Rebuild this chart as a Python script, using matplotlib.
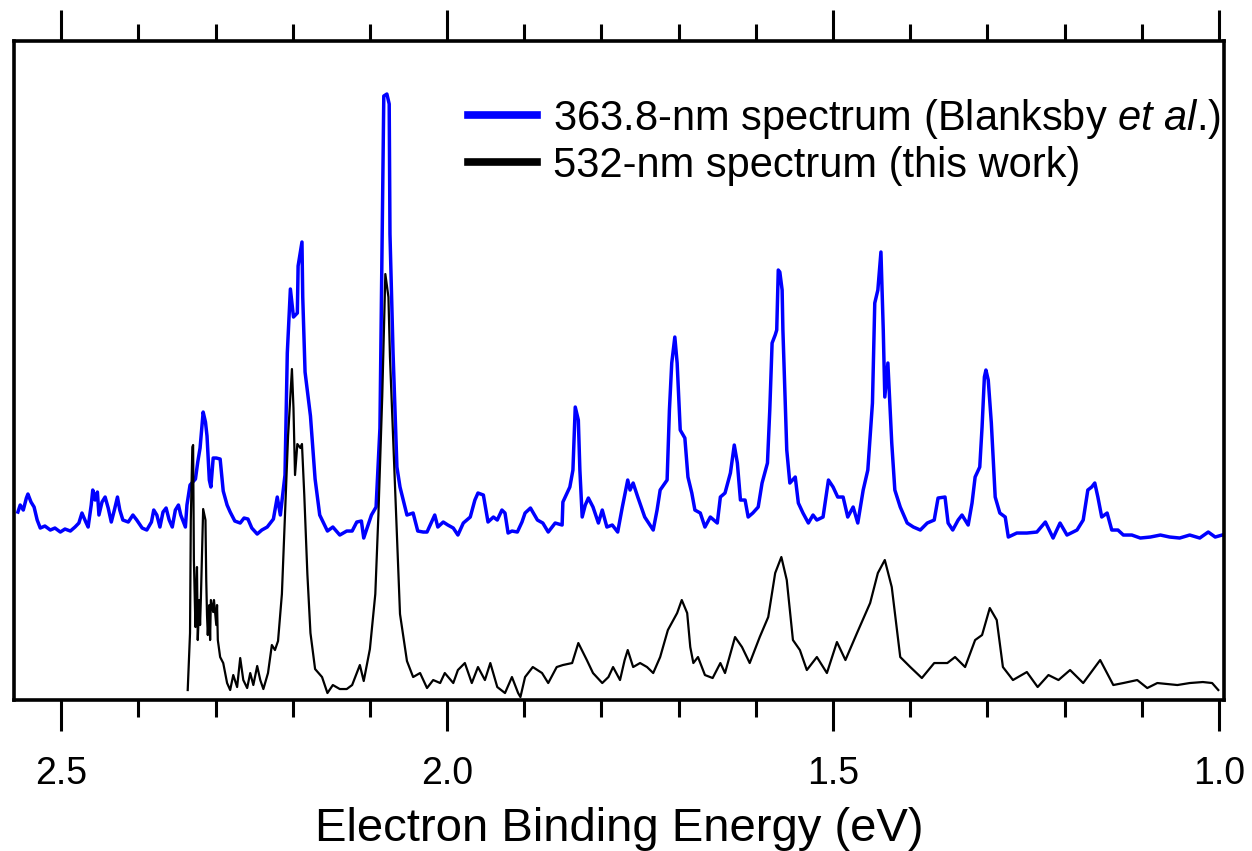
import matplotlib
matplotlib.use('Agg')
import matplotlib.pyplot as plt
from matplotlib.ticker import MultipleLocator

plt.rcParams['font.family'] = 'Liberation Sans'
plt.rcParams['mathtext.fontset'] = 'custom'
plt.rcParams['mathtext.rm'] = 'Liberation Sans'
plt.rcParams['mathtext.it'] = 'Liberation Sans:italic'

# 363.8-nm spectrum (Blanksby et al.) - binding energy (eV) / intensity (arb., offset)
e_blue = [2.556, 2.553, 2.549, 2.545, 2.543, 2.539, 2.535, 2.531, 2.527, 2.521,
          2.514, 2.508, 2.501, 2.495, 2.488, 2.482, 2.477, 2.473, 2.468, 2.465,
          2.461, 2.459, 2.456, 2.453, 2.451, 2.447, 2.443, 2.439, 2.435, 2.431,
          2.427, 2.424, 2.420, 2.413, 2.407, 2.402, 2.395, 2.389, 2.383, 2.380,
          2.376, 2.372, 2.368, 2.364, 2.360, 2.356, 2.352, 2.348, 2.345, 2.339,
          2.337, 2.333, 2.326, 2.323, 2.320, 2.316, 2.313, 2.311, 2.308, 2.306,
          2.303, 2.299, 2.294, 2.290, 2.285, 2.281, 2.275, 2.268, 2.263, 2.258,
          2.253, 2.246, 2.240, 2.233, 2.225, 2.220, 2.216, 2.210, 2.207, 2.203,
          2.199, 2.194, 2.193, 2.188, 2.187, 2.184, 2.177, 2.171, 2.165, 2.155,
          2.148, 2.139, 2.130, 2.123, 2.117, 2.111, 2.108, 2.098, 2.092, 2.087,
          2.084, 2.082, 2.078, 2.075, 2.074, 2.070, 2.065, 2.061, 2.052, 2.044,
          2.038, 2.031, 2.026, 2.016, 2.012, 2.005, 1.999, 1.992, 1.986, 1.979,
          1.970, 1.964, 1.960, 1.953, 1.947, 1.940, 1.935, 1.929, 1.925, 1.921,
          1.916, 1.909, 1.903, 1.899, 1.892, 1.883, 1.876, 1.869, 1.860, 1.851,
          1.850, 1.841, 1.837, 1.834, 1.830, 1.828, 1.825, 1.821, 1.817, 1.811,
          1.804, 1.799, 1.793, 1.786, 1.779, 1.773, 1.766, 1.763, 1.759, 1.753,
          1.744, 1.733, 1.728, 1.724, 1.715, 1.712, 1.709, 1.705, 1.702, 1.698,
          1.692, 1.688, 1.683, 1.679, 1.672, 1.666, 1.659, 1.650, 1.646, 1.640,
          1.633, 1.628, 1.624, 1.620, 1.614, 1.610, 1.604, 1.597, 1.592, 1.585,
          1.582, 1.579, 1.575, 1.573, 1.571, 1.569, 1.566, 1.565, 1.560, 1.556,
          1.549, 1.545, 1.539, 1.532, 1.526, 1.521, 1.513, 1.506, 1.500, 1.494,
          1.487, 1.481, 1.474, 1.468, 1.461, 1.455, 1.449, 1.446, 1.442, 1.438,
          1.435, 1.433, 1.429, 1.424, 1.420, 1.413, 1.404, 1.396, 1.387, 1.378,
          1.369, 1.364, 1.355, 1.351, 1.345, 1.338, 1.333, 1.325, 1.320, 1.316,
          1.310, 1.307, 1.304, 1.302, 1.299, 1.295, 1.290, 1.284, 1.277, 1.273,
          1.262, 1.249, 1.236, 1.225, 1.215, 1.206, 1.197, 1.184, 1.176, 1.170,
          1.165, 1.161, 1.157, 1.152, 1.145, 1.139, 1.131, 1.124, 1.113, 1.102,
          1.089, 1.076, 1.064, 1.051, 1.038, 1.025, 1.014, 1.005, 0.996]
i_blue = [188, 195, 190, 202, 206, 198, 193, 180, 172, 174,
          170, 172, 168, 171, 169, 173, 177, 187, 178, 173,
          195, 210, 200, 208, 185, 198, 203, 192, 178, 190,
          203, 190, 180, 178, 185, 180, 172, 170, 178, 190,
          185, 173, 188, 192, 180, 173, 190, 195, 185, 173,
          195, 215, 221, 238, 252, 288, 278, 264, 220, 213,
          242, 242, 241, 209, 195, 188, 179, 177, 182, 181,
          172, 166, 170, 173, 181, 203, 185, 225, 347, 411,
          383, 387, 434, 458, 403, 328, 284, 221, 185, 169,
          173, 165, 169, 169, 178, 179, 162, 185, 193, 272,
          470, 604, 606, 596, 466, 347, 233, 213, 185, 187,
          169, 168, 168, 185, 173, 178, 175, 172, 165, 177,
          183, 200, 207, 205, 178, 183, 180, 190, 187, 167,
          169, 168, 178, 187, 192, 180, 177, 168, 177, 175,
          198, 213, 230, 293, 280, 230, 183, 195, 202, 193,
          177, 190, 173, 175, 168, 193, 220, 210, 217, 203,
          183, 170, 190, 210, 220, 290, 337, 363, 337, 270,
          262, 223, 207, 190, 187, 173, 183, 177, 203, 207,
          227, 255, 237, 200, 200, 183, 187, 193, 217, 237,
          290, 357, 365, 370, 430, 428, 410, 370, 250, 217,
          223, 197, 187, 177, 185, 180, 183, 220, 213, 203,
          203, 183, 193, 177, 210, 230, 297, 397, 410, 448,
          370, 303, 337, 257, 210, 193, 177, 173, 170, 177,
          180, 202, 203, 177, 170, 180, 185, 175, 197, 223,
          233, 273, 323, 330, 320, 277, 203, 187, 183, 163,
          167, 167, 168, 178, 162, 177, 165, 170, 180, 210,
          213, 217, 203, 183, 187, 170, 170, 165, 165, 162,
          163, 165, 163, 162, 165, 162, 168, 163, 165]

# 532-nm spectrum (this work)
e_black = [2.336, 2.333, 2.332, 2.330, 2.329, 2.328, 2.326, 2.325, 2.324, 2.323,
           2.321, 2.320, 2.319, 2.316, 2.313, 2.312, 2.311, 2.310, 2.308, 2.307,
           2.306, 2.303, 2.302, 2.299, 2.298, 2.297, 2.294, 2.290, 2.285, 2.281,
           2.277, 2.272, 2.268, 2.264, 2.259, 2.255, 2.251, 2.246, 2.242, 2.238,
           2.232, 2.227, 2.223, 2.219, 2.214, 2.210, 2.206, 2.201, 2.199, 2.197,
           2.194, 2.190, 2.188, 2.185, 2.181, 2.177, 2.171, 2.162, 2.155, 2.148,
           2.139, 2.130, 2.123, 2.113, 2.108, 2.100, 2.093, 2.089, 2.084, 2.080,
           2.076, 2.074, 2.070, 2.065, 2.061, 2.052, 2.044, 2.035, 2.026, 2.018,
           2.009, 2.003, 1.992, 1.986, 1.977, 1.968, 1.960, 1.951, 1.944, 1.935,
           1.925, 1.916, 1.908, 1.905, 1.899, 1.889, 1.877, 1.869, 1.858, 1.850,
           1.838, 1.830, 1.819, 1.811, 1.799, 1.791, 1.785, 1.776, 1.770, 1.766,
           1.759, 1.750, 1.741, 1.733, 1.724, 1.714, 1.702, 1.696, 1.689, 1.685,
           1.681, 1.675, 1.666, 1.656, 1.646, 1.640, 1.627, 1.618, 1.608, 1.595,
           1.584, 1.575, 1.567, 1.560, 1.552, 1.543, 1.534, 1.521, 1.508, 1.495,
           1.484, 1.469, 1.452, 1.442, 1.433, 1.424, 1.413, 1.400, 1.385, 1.369,
           1.352, 1.342, 1.329, 1.316, 1.307, 1.297, 1.288, 1.280, 1.267, 1.249,
           1.235, 1.221, 1.208, 1.193, 1.176, 1.154, 1.137, 1.124, 1.106, 1.093,
           1.080, 1.054, 1.038, 1.021, 1.009, 1.001]
i_black = [10, 67, 180, 253, 255, 140, 73, 110, 133, 60,
           100, 75, 100, 191, 180, 120, 85, 65, 95, 60,
           100, 88, 100, 75, 95, 60, 43, 37, 17, 10,
           25, 13, 42, 20, 12, 27, 15, 34, 20, 11,
           27, 55, 50, 59, 106, 185, 264, 331, 292, 225,
           256, 252, 256, 205, 126, 67, 31, 23, 7, 15,
           11, 11, 15, 35, 19, 51, 106, 185, 304, 426,
           403, 343, 264, 165, 86, 39, 23, 27, 12, 20,
           17, 27, 17, 30, 37, 17, 33, 20, 37, 13,
           7, 23, 7, 3, 23, 33, 27, 17, 33, 35,
           37, 57, 40, 27, 17, 23, 33, 20, 40, 50,
           33, 37, 33, 27, 43, 70, 87, 100, 87, 53,
           37, 43, 25, 22, 37, 27, 63, 53, 37, 63,
           83, 127, 143, 120, 60, 50, 30, 43, 27, 58,
           40, 67, 97, 127, 140, 113, 43, 33, 22, 37,
           37, 43, 33, 60, 65, 92, 80, 33, 20, 28,
           13, 25, 20, 30, 17, 40, 15, 17, 20, 12,
           17, 15, 17, 18, 17, 10]

fig = plt.figure(figsize=(12.52, 8.51), dpi=100)
ax = fig.add_axes([0.0112, 0.1774, 0.9665, 0.7744])

ax.plot(e_blue, i_blue, color='#0000ff', lw=2.5,
        label='363.8-nm spectrum (Blanksby $\\mathit{et\\ al}$.)')
ax.plot(e_black, i_black, color='black', lw=1.6,
        label='532-nm spectrum (this work)')

ax.set_xlim(2.561, 0.9935)
ax.set_ylim(0, 659)
ax.set_yticks([])

ax.xaxis.set_major_locator(MultipleLocator(0.5))
ax.xaxis.set_minor_locator(MultipleLocator(0.1))
ax.xaxis.set_major_formatter(matplotlib.ticker.FormatStrFormatter('%.1f'))
ax.tick_params(axis='x', which='both', direction='out', top=True, bottom=True,
               labeltop=False, width=2.2, labelsize=27, pad=18)
ax.tick_params(axis='x', which='major', length=22)
ax.tick_params(axis='x', which='minor', length=12.5)
for sp in ax.spines.values():
    sp.set_linewidth(2.6)

ax.set_xlabel('Electron Binding Energy (eV)', fontsize=34, labelpad=11)

leg = ax.legend(loc='upper left', bbox_to_anchor=(0.375, 0.915), frameon=False,
                fontsize=30, handlelength=1.65, handletextpad=0.4,
                borderpad=0, borderaxespad=0, labelspacing=0.12)
for ln in leg.get_lines():
    ln.set_linewidth(5.5)

fig.savefig('out.png', dpi=100)
